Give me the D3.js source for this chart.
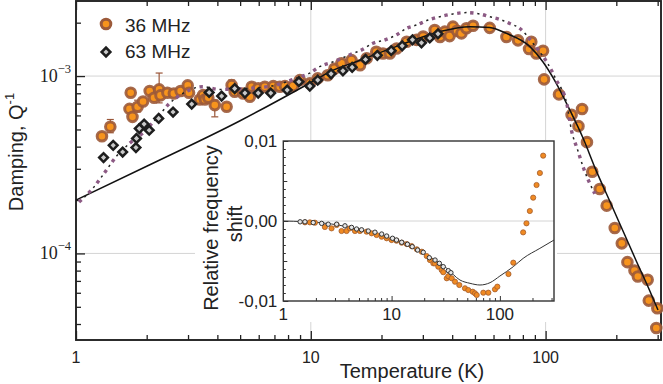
<!DOCTYPE html>
<html>
<head>
<meta charset="utf-8">
<script src="https://cdn.jsdelivr.net/npm/d3@7"></script>
<style>
  body { margin: 0; background: #fff; }
  svg { display: block; font-family: "Liberation Sans", Arial, sans-serif; }
</style>
</head>
<body>
<div id="chart"></div>
<script>
// main panel: damping Q^-1 vs temperature (K), pairs [T, Q]
const damp36 = [
  [1.29, 4.58e-4], [1.40, 5.18e-4], [1.69, 6.53e-4], [1.71, 8.05e-4], [1.74, 5.89e-4],
  [1.83, 6.71e-4], [1.93, 7.19e-4], [2.06, 8.23e-4], [2.15, 7.55e-4], [2.26, 8.41e-4],
  [2.29, 7.78e-4], [2.45, 8.05e-4], [2.61, 7.98e-4], [2.79, 8.23e-4], [2.99, 8.86e-4],
  [3.03, 8.05e-4], [3.37, 7.38e-4], [3.48, 7.82e-4], [3.54, 7.38e-4], [3.66, 7.55e-4],
  [3.90, 6.86e-4], [4.38, 6.71e-4], [4.60, 8.89e-4], [4.74, 8.15e-4], [5.15, 7.98e-4],
  [5.50, 7.64e-4], [5.60, 8.71e-4], [5.97, 8.53e-4], [6.37, 8.71e-4], [6.92, 8.78e-4],
  [7.38, 8.71e-4], [7.76, 8.78e-4], [8.41, 8.78e-4], [8.98, 9.49e-4], [9.90, 9.09e-4],
  [10.7, 9.70e-4], [11.8, 1.01e-3], [12.6, 1.10e-3], [13.5, 1.18e-3], [14.9, 1.23e-3],
  [16.2, 1.15e-3], [17.3, 1.26e-3], [19.0, 1.37e-3], [20.3, 1.34e-3], [21.7, 1.34e-3],
  [23.2, 1.43e-3], [25.6, 1.56e-3], [28.2, 1.60e-3], [30.1, 1.67e-3], [33.7, 1.82e-3],
  [35.5, 1.66e-3], [37.2, 1.78e-3], [39.0, 1.68e-3], [40.3, 1.90e-3], [42.0, 1.80e-3],
  [43.8, 1.74e-3], [46.0, 1.86e-3], [49.1, 1.92e-3], [57.8, 1.87e-3], [68.1, 1.66e-3],
  [76.3, 1.59e-3], [85.0, 1.42e-3], [86.9, 1.56e-3], [91.3, 1.34e-3], [97.5, 1.39e-3],
  [98.5, 9.58e-4], [114, 7.88e-4], [129, 6.04e-4], [138, 5.22e-4], [143, 6.52e-4],
  [150, 4.24e-4], [158, 2.89e-4], [170, 2.31e-4], [182, 1.86e-4], [197, 1.39e-4],
  [211, 1.14e-4], [223, 8.93e-5], [239, 8.01e-5], [247, 7.41e-5], [272, 7.10e-5],
  [275, 5.42e-5], [296, 3.80e-5], [299, 4.91e-5]
];
// error bars for some 36 MHz points: [T, low, high]
const err36 = [
  [1.40, 4.79e-4, 5.69e-4], [1.83, 6.28e-4, 7.31e-4], [2.26, 7.06e-4, 1.04e-3],
  [3.90, 5.89e-4, 7.31e-4], [4.60, 8.40e-4, 9.50e-4]
];
const damp63 = [
  [1.31, 3.47e-4], [1.44, 4.07e-4], [1.58, 3.73e-4], [1.80, 3.95e-4], [1.81, 4.45e-4],
  [1.86, 5.06e-4], [1.95, 5.36e-4], [2.05, 4.95e-4], [2.25, 5.77e-4], [2.59, 6.27e-4],
  [3.11, 6.95e-4], [3.69, 8.08e-4], [4.17, 7.71e-4], [4.74, 8.50e-4], [5.24, 8.02e-4],
  [5.97, 8.02e-4], [6.75, 8.02e-4], [7.93, 8.34e-4], [8.90, 9.29e-4], [9.90, 8.78e-4],
  [10.7, 9.49e-4], [12.2, 1.03e-3], [13.7, 1.07e-3], [15.0, 1.12e-3], [17.1, 1.24e-3],
  [19.2, 1.31e-3], [22.0, 1.39e-3], [24.5, 1.48e-3], [27.1, 1.60e-3], [29.6, 1.54e-3],
  [32.1, 1.64e-3], [34.8, 1.73e-3]
];
const modelSolid = [
  [1, 2.0e-4], [2, 3.1e-4], [5, 5.6e-4], [10, 9.2e-4], [12.1, 1.06e-3], [16, 1.22e-3],
  [23.2, 1.47e-3], [35.4, 1.78e-3], [47.5, 1.90e-3], [57.8, 1.88e-3], [68.1, 1.74e-3],
  [85.5, 1.47e-3], [97.5, 1.20e-3], [111, 9.1e-4], [127, 6.4e-4], [144, 4.5e-4],
  [164, 2.94e-4], [181, 2.19e-4], [206, 1.49e-4], [243, 9.1e-5], [277, 6.2e-5], [301, 4.8e-5]
];
const modelDotted = [
  [1.03, 1.95e-4], [1.16, 2.27e-4], [1.30, 2.76e-4], [1.48, 3.50e-4], [1.69, 4.17e-4],
  [1.95, 4.85e-4], [2.23, 5.89e-4], [2.50, 7.01e-4], [2.85, 7.98e-4], [3.46, 8.71e-4],
  [4.07, 8.41e-4], [5.46, 8.53e-4], [7.10, 8.89e-4], [8.63, 9.70e-4], [9.84, 1.035e-3],
  [10.9, 1.13e-3], [12.6, 1.21e-3], [14.9, 1.33e-3], [16.4, 1.40e-3], [18.4, 1.53e-3],
  [20.7, 1.60e-3], [23.2, 1.71e-3], [25.6, 1.86e-3], [28.2, 1.94e-3], [31.6, 2.07e-3],
  [35.4, 2.16e-3], [40.3, 2.24e-3], [46.0, 2.28e-3], [52.4, 2.24e-3], [57.8, 2.16e-3],
  [63.7, 2.09e-3], [70.3, 1.98e-3], [77.5, 1.86e-3], [82.7, 1.71e-3], [88.3, 1.53e-3],
  [94.3, 1.37e-3], [102, 1.18e-3], [111, 9.49e-4], [123, 7.01e-4], [129, 4.91e-4],
  [137, 3.82e-4], [145, 3.03e-4], [162, 2.17e-4]
];

// inset: relative frequency shift vs temperature, pairs [T, shift]
const shift36 = [
  [1.585, -0.00017], [1.76, -0.00017], [1.96, -0.00021], [2.42, -0.00075], [2.79, -0.00092],
  [3.11, -0.0005], [3.45, -0.00125], [3.84, -0.00125], [4.12, -0.00092], [4.59, -0.00125],
  [5.10, -0.00125], [5.88, -0.00133], [6.54, -0.00154], [7.27, -0.00175], [8.10, -0.00196],
  [9.01, -0.00216], [10.0, -0.00238], [11.1, -0.00246], [12.4, -0.00271], [13.8, -0.00288],
  [15.3, -0.00313], [17.1, -0.00354], [19.0, -0.00384], [21.1, -0.00438], [22.6, -0.00488],
  [24.3, -0.00529], [25.1, -0.0053], [27.0, -0.00571], [29.0, -0.00613], [30.0, -0.0064],
  [32.3, -0.00716], [33.4, -0.0069], [35.9, -0.00716], [38.5, -0.00759], [42.2, -0.008],
  [47.6, -0.00841], [51.1, -0.00863], [56.1, -0.00884], [58.9, -0.00904], [61.1, -0.00925],
  [70.3, -0.00896], [78.2, -0.00896], [90.1, -0.00854], [94.7, -0.00821], [120, -0.00663],
  [133, -0.00521], [164, -0.00142], [176, -0.00029], [189, 0.00125], [203, 0.00292],
  [218, 0.0045], [234, 0.006], [251, 0.00817]
];
const shift63 = [
  [1.43, -0.0001], [1.585, -0.0001], [1.89, -0.0002], [2.26, -0.0003], [2.60, -0.0004],
  [3.11, -0.0004], [3.71, -0.0006], [4.27, -0.0008], [4.75, -0.001], [5.28, -0.0011],
  [6.09, -0.00125], [7.02, -0.0014], [8.10, -0.00163], [9.01, -0.00188], [10.2, -0.00216],
  [11.1, -0.00238], [12.4, -0.00266], [14.0, -0.00291], [15.5, -0.00321], [17.4, -0.00363],
  [19.6, -0.00391], [22.3, -0.00459], [25.2, -0.00488], [27.6, -0.00529], [30.0, -0.00571],
  [33.4, -0.00621], [35.3, -0.00646]
];
const shiftModel = [
  [1, 0], [2.34, -0.00025], [4.75, -0.001], [7.81, -0.00188], [9.63, -0.00217],
  [15.9, -0.00341], [32.3, -0.00591], [42.8, -0.00738], [53, -0.00779], [65.5, -0.008],
  [81.1, -0.00771], [100, -0.00688], [133, -0.00571], [164, -0.00467], [234, -0.00342],
  [316, -0.00238]
];

// labels
const legendLabels = ["36 MHz", "63 MHz"];
const xMajorTicks = [1, 10, 100];
const xMajorLabels = ["1", "10", "100"];
const yMajorTicks = [1e-3, 1e-4];
const yMajorExps = ["\u22123", "\u22124"];
const insetYTicks = [0.01, 0, -0.01];
const insetYLabels = ["0,01", "0,00", "-0,01"];
const insetXLabels = ["1", "10", "100"];

const width = 663, height = 384;
const svg = d3.select("#chart").append("svg")
  .attr("width", width).attr("height", height);

const plot = { left: 76, right: 661, top: 1, bottom: 340 };
const inset = { left: 283.3, right: 554, top: 141, bottom: 301 };

const x = d3.scaleLog().domain([1, 310]).range([plot.left, plot.right]);
const y = d3.scaleLog().domain([3.25e-5, 2.65e-3]).range([plot.bottom, plot.top]);
const xi = d3.scaleLog().domain([1, 316]).range([inset.left, inset.right]);
const yi = d3.scaleLinear().domain([-0.01, 0.01]).range([inset.bottom, inset.top]);

const isPow10 = (d) => Math.abs(Math.log10(d) - Math.round(Math.log10(d))) < 1e-9;
const axisColor = "#222";

// grid lines
const grid = svg.append("g").attr("stroke", "#d4d4d4").attr("stroke-width", 1);
grid.selectAll(".gx").data([10, 100]).join("line").attr("class", "gx")
  .attr("x1", (d) => x(d)).attr("x2", (d) => x(d))
  .attr("y1", plot.top).attr("y2", plot.bottom);
grid.selectAll(".gy").data(yMajorTicks).join("line").attr("class", "gy")
  .attr("x1", plot.left).attr("x2", plot.right)
  .attr("y1", (d) => y(d)).attr("y2", (d) => y(d));

// inset background
svg.append("rect").attr("x", 195).attr("y", 140).attr("width", 362).attr("height", 182)
  .attr("fill", "#fff");

// main axes ticks
function styleAxis(g) {
  g.select(".domain").remove();
  g.selectAll(".tick line").attr("stroke", axisColor).attr("stroke-width", 1.3);
}
const xMinor = x.ticks().filter((d) => !isPow10(d));
const yMinor = y.ticks().filter((d) => !isPow10(d));

svg.append("g").attr("transform", `translate(0,${plot.bottom})`)
  .call(d3.axisBottom(x).tickValues(xMinor).tickSize(-5).tickFormat("")).call(styleAxis);
svg.append("g").attr("transform", `translate(0,${plot.bottom})`)
  .call(d3.axisBottom(x).tickValues(xMajorTicks).tickSize(-9).tickFormat("")).call(styleAxis);
svg.append("g").attr("transform", `translate(0,${plot.top})`)
  .call(d3.axisTop(x).tickValues(xMinor).tickSize(-5).tickFormat("")).call(styleAxis);
svg.append("g").attr("transform", `translate(0,${plot.top})`)
  .call(d3.axisTop(x).tickValues(xMajorTicks).tickSize(-9).tickFormat("")).call(styleAxis);
svg.append("g").attr("transform", `translate(${plot.left},0)`)
  .call(d3.axisLeft(y).tickValues(yMinor).tickSize(-5).tickFormat("")).call(styleAxis);
svg.append("g").attr("transform", `translate(${plot.left},0)`)
  .call(d3.axisLeft(y).tickValues(yMajorTicks).tickSize(-9).tickFormat("")).call(styleAxis);

// main frame
svg.append("rect")
  .attr("x", plot.left).attr("y", plot.top)
  .attr("width", plot.right - plot.left).attr("height", plot.bottom - plot.top)
  .attr("fill", "none").attr("stroke", axisColor).attr("stroke-width", 1.9);

// x tick labels
svg.append("g").selectAll("text").data(xMajorTicks).join("text")
  .attr("x", (d) => x(d)).attr("y", 363)
  .attr("text-anchor", "middle").attr("font-size", 16).attr("fill", "#222")
  .text((d, i) => xMajorLabels[i]);

// y tick labels (serif, 10^n)
const yLab = svg.append("g").selectAll("text").data(yMajorTicks).join("text")
  .attr("x", 71).attr("y", (d) => y(d) + 6)
  .attr("text-anchor", "end").attr("fill", "#222")
  .attr("font-family", "'Liberation Serif', 'Times New Roman', serif")
  .attr("font-size", 18);
yLab.append("tspan").text("10");
yLab.append("tspan").attr("font-size", 12.5).attr("dy", -9).text((d, i) => yMajorExps[i]);

// axis titles
svg.append("text").attr("x", 412).attr("y", 378).attr("text-anchor", "middle")
  .attr("font-size", 20).attr("fill", "#222").text("Temperature (K)");
const yTitle = svg.append("text")
  .attr("transform", "translate(23,152) rotate(-90)")
  .attr("text-anchor", "middle").attr("font-size", 20).attr("fill", "#222");
yTitle.append("tspan").text("Damping, Q");
yTitle.append("tspan").attr("font-size", 13).attr("dy", -9).text("-1");

// main data
const lineMain = d3.line().x((d) => x(d[0])).y((d) => y(d[1])).curve(d3.curveMonotoneX);

svg.append("g").attr("stroke", "#9a5638").attr("stroke-width", 1.2)
  .selectAll("g").data(err36).join("g")
  .call((g) => g.append("line")
    .attr("x1", (d) => x(d[0])).attr("x2", (d) => x(d[0]))
    .attr("y1", (d) => y(d[1])).attr("y2", (d) => y(d[2])))
  .call((g) => g.append("line")
    .attr("x1", (d) => x(d[0]) - 3.5).attr("x2", (d) => x(d[0]) + 3.5)
    .attr("y1", (d) => y(d[1])).attr("y2", (d) => y(d[1])))
  .call((g) => g.append("line")
    .attr("x1", (d) => x(d[0]) - 3.5).attr("x2", (d) => x(d[0]) + 3.5)
    .attr("y1", (d) => y(d[2])).attr("y2", (d) => y(d[2])));

svg.append("g").selectAll("circle").data(damp36).join("circle")
  .attr("cx", (d) => x(d[0])).attr("cy", (d) => y(d[1])).attr("r", 4.8)
  .attr("fill", "#f7941d").attr("stroke", "#9c5a3a").attr("stroke-opacity", 0.9)
  .attr("stroke-width", 3);

svg.append("path").datum(modelSolid).attr("d", lineMain)
  .attr("fill", "none").attr("stroke", "#111").attr("stroke-width", 1.5);
svg.append("path").datum(modelDotted).attr("d", lineMain)
  .attr("fill", "none").attr("stroke", "#8c5a84").attr("stroke-width", 3.4)
  .attr("stroke-dasharray", "3.4,9.6");
svg.append("path").datum(modelDotted).attr("d", lineMain)
  .attr("fill", "none").attr("stroke", "#222").attr("stroke-width", 1.5)
  .attr("stroke-dasharray", "2.2,10.8").attr("stroke-dashoffset", -7.2);

const diamond = d3.symbol().type(d3.symbolSquare).size(38);
svg.append("g").selectAll("path").data(damp63).join("path")
  .attr("d", diamond)
  .attr("transform", (d) => `translate(${x(d[0])},${y(d[1])}) rotate(45)`)
  .attr("fill", "#c9c9c9").attr("stroke", "#1e1e1e").attr("stroke-width", 2.5);

// legend
svg.append("circle").attr("cx", 106).attr("cy", 24).attr("r", 4.8)
  .attr("fill", "#f7941d").attr("stroke", "#9c5a3a").attr("stroke-width", 3);
svg.append("path").attr("d", diamond).attr("transform", "translate(106,52) rotate(45)")
  .attr("fill", "#c9c9c9").attr("stroke", "#1e1e1e").attr("stroke-width", 2.5);
svg.append("g").selectAll("text").data(legendLabels).join("text")
  .attr("x", 125).attr("y", (d, i) => 32 + i * 26)
  .attr("font-size", 19).attr("fill", "#222").text((d) => d);

// ---------- inset ----------
svg.append("line").attr("x1", inset.left).attr("x2", inset.right)
  .attr("y1", yi(0)).attr("y2", yi(0)).attr("stroke", "#d4d4d4").attr("stroke-width", 1);

const yiAll = yi.ticks(20);
const yiMid = [-0.005, 0.005];
const yiMinor = yiAll.filter((d) => !insetYTicks.some((t) => Math.abs(t - d) < 1e-9)
  && !yiMid.some((t) => Math.abs(t - d) < 1e-9));
function styleInset(g) {
  g.select(".domain").remove();
  g.selectAll(".tick line").attr("stroke", "#333").attr("stroke-width", 1);
}
svg.append("g").attr("transform", `translate(${inset.left},0)`)
  .call(d3.axisLeft(yi).tickValues(yiMinor).tickSize(-2.5).tickFormat("")).call(styleInset);
svg.append("g").attr("transform", `translate(${inset.left},0)`)
  .call(d3.axisLeft(yi).tickValues(yiMid).tickSize(-4).tickFormat("")).call(styleInset);
svg.append("g").attr("transform", `translate(${inset.left},0)`)
  .call(d3.axisLeft(yi).tickValues(insetYTicks).tickSize(-5).tickFormat("")).call(styleInset);
const xiMinor = xi.ticks().filter((d) => !isPow10(d));
svg.append("g").attr("transform", `translate(0,${inset.bottom})`)
  .call(d3.axisBottom(xi).tickValues(xiMinor).tickSize(-3).tickFormat("")).call(styleInset);
svg.append("g").attr("transform", `translate(0,${inset.bottom})`)
  .call(d3.axisBottom(xi).tickValues([10, 100]).tickSize(-5).tickFormat("")).call(styleInset);

svg.append("rect")
  .attr("x", inset.left).attr("y", inset.top)
  .attr("width", inset.right - inset.left).attr("height", inset.bottom - inset.top)
  .attr("fill", "none").attr("stroke", "#333").attr("stroke-width", 1.4);

svg.append("g").selectAll("text").data(insetYTicks).join("text")
  .attr("x", inset.left - 6).attr("y", (d) => yi(d) + 6)
  .attr("text-anchor", "end").attr("font-size", 17).attr("fill", "#222")
  .text((d, i) => insetYLabels[i]);
svg.append("g").selectAll("text").data([1, 10, 100]).join("text")
  .attr("x", (d) => xi(d)).attr("y", 320)
  .attr("text-anchor", "middle").attr("font-size", 17).attr("fill", "#222")
  .text((d, i) => insetXLabels[i]);

svg.append("text").attr("transform", "translate(218,228) rotate(-90)")
  .attr("text-anchor", "middle").attr("font-size", 20).attr("fill", "#222")
  .text("Relative frequency");
svg.append("text").attr("transform", "translate(242,224) rotate(-90)")
  .attr("text-anchor", "middle").attr("font-size", 20).attr("fill", "#222")
  .text("shift");

const lineInset = d3.line().x((d) => xi(d[0])).y((d) => yi(d[1])).curve(d3.curveMonotoneX);
svg.append("path").datum(shiftModel).attr("d", lineInset)
  .attr("fill", "none").attr("stroke", "#333").attr("stroke-width", 1);

svg.append("g").selectAll("circle").data(shift36).join("circle")
  .attr("cx", (d) => xi(d[0])).attr("cy", (d) => yi(d[1])).attr("r", 2.6)
  .attr("fill", "#f08a22").attr("stroke", "#a35d2e").attr("stroke-width", 0.8);
svg.append("g").selectAll("circle").data(shift63).join("circle")
  .attr("cx", (d) => xi(d[0])).attr("cy", (d) => yi(d[1])).attr("r", 2.2)
  .attr("fill", "#e6e6e6").attr("stroke", "#333").attr("stroke-width", 1);
</script>
</body>
</html>
